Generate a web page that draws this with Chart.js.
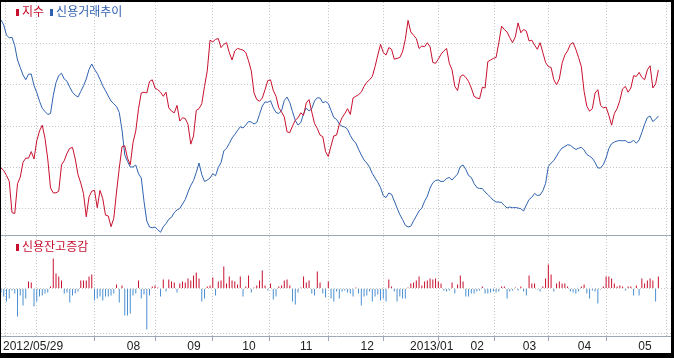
<!DOCTYPE html>
<html>
<head>
<meta charset="utf-8">
<title>지수 / 신용거래추이 / 신용잔고증감</title>
<script src="https://cdn.jsdelivr.net/npm/chart.js@4.4.0/dist/chart.umd.min.js"></script>
<style>
    body { margin: 0; background: #fff; }
    .wrap { position: relative; width: 674px; height: 358px; background: #fff; overflow: hidden; }
    #chart { position: absolute; left: 1px; top: 2px; }
    .frame {
        position: absolute; left: 0; top: 0; width: 674px; height: 358px;
        box-sizing: border-box; border-style: solid; border-color: #000;
        border-width: 2px 3px 5px 1px; pointer-events: none;
    }
    .lg {
        position: absolute; font-family: "Noto Sans CJK KR", sans-serif;
        font-size: 12px; line-height: 12px; white-space: nowrap;
    }
    .lg i { display: inline-block; width: 3px; height: 7px; margin-right: 3px; }
</style>
</head>
<body>
<div class="wrap">
    <canvas id="chart" width="670" height="351"></canvas>
    <div class="lg" style="left:16px; top:5px;">
        <i style="background:#c8102e"></i><span style="color:#c8102e">지수</span><i style="background:#2f5fae; margin-left:6px"></i><span style="color:#2f5fae">신용거래추이</span>
    </div>
    <div class="lg" style="left:16px; top:240px;">
        <i style="background:#c8102e"></i><span style="color:#c8102e">신용잔고증감</span>
    </div>
    <div class="frame"></div>
</div>

<script>
    // 월 구분 (거래일 인덱스) 과 라벨
    const monthStart = [0, 3, 23, 45, 67, 87, 108, 130, 148, 170, 189, 209, 231];
    const monthLabel = ['2012/05/29', '', '', '08', '09', '10', '11', '12', '2013/01', '02', '03', '04', '05'];

    // 지수 (일별 종가)
    const kospi = [
        1849,1846,1840,1833,1795,1794,1830,1838,1856,1861,
        1861,1869,1860,1882,1894,1901,1885,1860,1825,1819,
        1819,1821,1853,1858,1867,1873,1874,1860,1841,1831,
        1818,1790,1814,1821,1822,1801,1822,1812,1792,1791,
        1778,1788,1820,1849,1875,1876,1861,1853,1880,1894,
        1921,1940,1941,1940,1954,1956,1946,1944,1941,1936,
        1941,1922,1918,1916,1925,1906,1910,1909,1902,1878,
        1888,1919,1921,1927,1948,1967,2004,2002,2005,2006,
        1995,1999,2001,1989,1980,1991,1994,1993,1992,1989,
        1979,1967,1940,1932,1930,1934,1944,1955,1956,1943,
        1936,1922,1917,1911,1893,1892,1900,1907,1910,1916,
        1913,1928,1932,1917,1903,1897,1889,1887,1869,1863,
        1876,1888,1889,1902,1910,1915,1921,1914,1934,1936,
        1938,1941,1948,1953,1956,1960,1972,1986,1999,1989,
        1986,1995,1993,1981,1982,1983,1990,2005,2028,2014,
        2010,2006,1994,1997,1996,2001,1996,1977,1976,1981,
        1987,1991,1994,1976,1968,1948,1943,1960,1962,1959,
        1954,1946,1936,1934,1933,1947,1946,1978,1980,1982,
        1983,2001,2021,2017,2014,2007,2001,2008,2025,2013,
        2017,2015,2003,2004,1998,1993,2001,1989,1977,1972,
        1971,1956,1950,1957,1976,1986,1991,1999,2001,1993,
        1983,1972,1942,1924,1918,1921,1940,1944,1925,1922,
        1923,1913,1901,1915,1921,1931,1945,1948,1941,1946,
        1961,1960,1965,1959,1956,1968,1973,1946,1951,1968
    ];

    // 신용거래추이 (잔고, 십억원)
    const creditBal = [
        4920,4900,4859,4849,4851,4817,4760,4730,4700,4681,
        4703,4704,4658,4630,4595,4567,4554,4542,4546,4618,
        4670,4698,4707,4684,4675,4651,4631,4619,4612,4634,
        4657,4684,4722,4744,4723,4706,4683,4657,4637,4616,
        4596,4585,4574,4550,4480,4380,4354,4332,4332,4340,
        4305,4288,4194,4116,4092,4089,4092,4081,4071,4093,
        4106,4123,4131,4150,4160,4166,4184,4202,4232,4258,
        4278,4310,4348,4302,4274,4280,4288,4305,4297,4330,
        4350,4396,4407,4426,4448,4462,4478,4493,4488,4500,
        4514,4512,4504,4510,4543,4576,4592,4591,4597,4569,
        4550,4546,4557,4598,4612,4590,4553,4518,4500,4510,
        4545,4568,4556,4566,4596,4609,4608,4589,4594,4586,
        4558,4530,4523,4504,4495,4492,4483,4458,4440,4428,
        4403,4380,4360,4348,4331,4306,4288,4271,4249,4217,
        4210,4228,4223,4196,4168,4142,4122,4099,4092,4095,
        4117,4136,4156,4167,4195,4215,4248,4269,4278,4280,
        4274,4275,4286,4290,4280,4292,4304,4334,4340,4322,
        4298,4290,4266,4250,4246,4246,4232,4222,4211,4199,
        4192,4192,4190,4178,4168,4172,4169,4170,4168,4165,
        4156,4180,4202,4211,4226,4218,4220,4237,4266,4334,
        4348,4358,4376,4394,4408,4414,4421,4419,4410,4402,
        4407,4411,4400,4382,4375,4367,4350,4328,4328,4342,
        4368,4406,4425,4432,4436,4438,4437,4438,4430,4431,
        4439,4427,4440,4470,4503,4530,4536,4514,4523,4536
    ];

    // 신용잔고증감 (일별 증감)
    const creditChg = [
        -40,-80,-130,-100,-20,-50,-280,-70,-170,-100,
        70,60,-180,-130,-80,-70,-50,-40,20,300,
        150,120,80,-50,-40,-140,-70,-50,-30,80,
        80,80,120,140,-120,-100,-80,-120,-80,-80,
        -70,-50,40,-140,30,-270,-270,-250,-70,-50,
        80,-100,-60,-410,-70,20,30,10,-80,90,
        -30,90,70,60,-40,50,70,60,100,80,
        130,160,100,-130,-100,20,30,110,-70,70,
        80,220,50,120,80,70,40,120,-80,20,
        130,-40,10,30,80,180,30,-20,50,-110,
        -80,20,30,80,90,30,-130,-160,-40,10,
        120,60,80,-50,-70,170,60,-50,-90,70,
        -100,-130,-30,-100,-30,-20,-40,-50,-80,10,
        -50,-170,-80,-70,-30,-130,-80,-60,-120,-100,
        -130,90,20,-30,-130,-80,-100,-100,10,50,
        60,80,120,30,70,80,100,90,100,70,
        50,-20,-30,-20,60,-50,40,130,70,-80,
        -80,-50,-50,-30,-20,20,-50,-50,-40,-30,
        -40,-30,20,20,-100,-30,-20,10,-20,20,
        -30,-70,130,50,50,-10,-30,20,100,240,
        140,-30,50,70,50,50,20,-30,-40,-50,
        -30,20,40,-50,-100,-20,-30,-150,-10,20,
        120,120,100,50,20,30,20,-20,20,20,
        -70,30,-70,100,50,80,100,80,-130,120
    ];

    // 지수 보조선 값
    const indexGrid = [1800, 1850, 1900, 1950, 2000];

    const RED = '#c8102e';
    const BLUE = '#2f62b0';
    const BAR_BLUE = '#4a8fd2';
    const GRID = '#c6c6c6';
    const AXIS = '#9ea7b5';

    function toPoints(arr) {
        return arr.map((v, i) => ({ x: i, y: v }));
    }

    function hiddenGridAxis(min, max, values, color, dash) {
        return {
            type: 'linear',
            position: 'left',
            min: min,
            max: max,
            afterBuildTicks: scale => { scale.ticks = values.map(v => ({ value: v })); },
            ticks: { display: false },
            grid: { color: color, drawTicks: false },
            border: { display: false, dash: dash }
        };
    }

    Chart.defaults.font.family = '"Liberation Sans", Arial, sans-serif';
    Chart.defaults.animation = false;

    new Chart(document.getElementById('chart'), {
        type: 'line',
        data: {
            datasets: [{
                label: '지수',
                data: toPoints(kospi),
                yAxisID: 'yIndex',
                borderColor: RED,
                borderWidth: 1,
                pointRadius: 0,
                tension: 0
            }, {
                label: '신용거래추이',
                data: toPoints(creditBal),
                yAxisID: 'yBal',
                borderColor: BLUE,
                borderWidth: 1,
                pointRadius: 0,
                tension: 0
            }, {
                type: 'bar',
                label: '신용잔고증감',
                data: toPoints(creditChg),
                yAxisID: 'yChg',
                backgroundColor: ctx => (ctx.raw && ctx.raw.y >= 0 ? RED : BAR_BLUE),
                borderWidth: 0,
                inflateAmount: 0,
                barThickness: 1
            }]
        },
        options: {
            responsive: false,
            devicePixelRatio: 1,
            layout: { padding: 0 },
            plugins: {
                legend: { display: false },
                tooltip: { enabled: false }
            },
            scales: {
                x: {
                    type: 'linear',
                    min: 0,
                    max: 243.6,
                    offset: false,
                    afterBuildTicks: scale => { scale.ticks = monthStart.map(v => ({ value: v })); },
                    ticks: {
                        autoSkip: false,
                        maxRotation: 0,
                        align: 'start',
                        labelOffset: 2,
                        padding: 0,
                        color: '#222',
                        font: { size: 12, lineHeight: 1 },
                        callback: (value, index) => monthLabel[index]
                    },
                    grid: {
                        color: ctx => (ctx.index === 0 ? 'transparent' : GRID),
                        tickColor: ctx => (monthLabel[ctx.index] ? AXIS : 'transparent'),
                        tickLength: 5
                    },
                    border: { display: true, color: AXIS, width: 1, dash: [1, 2] }
                },
                yIndex: hiddenGridAxis(1645.5, 2050.3, indexGrid, GRID, [1, 2]),
                yBal: { type: 'linear', display: false, min: 3656, max: 4992 },
                yChg: hiddenGridAxis(-475, 2865, [-450, 0], GRID, [1, 2]),
                ySep: hiddenGridAxis(-475, 2865, [535], AXIS, [])
            }
        }
    });
</script>
</body>
</html>
